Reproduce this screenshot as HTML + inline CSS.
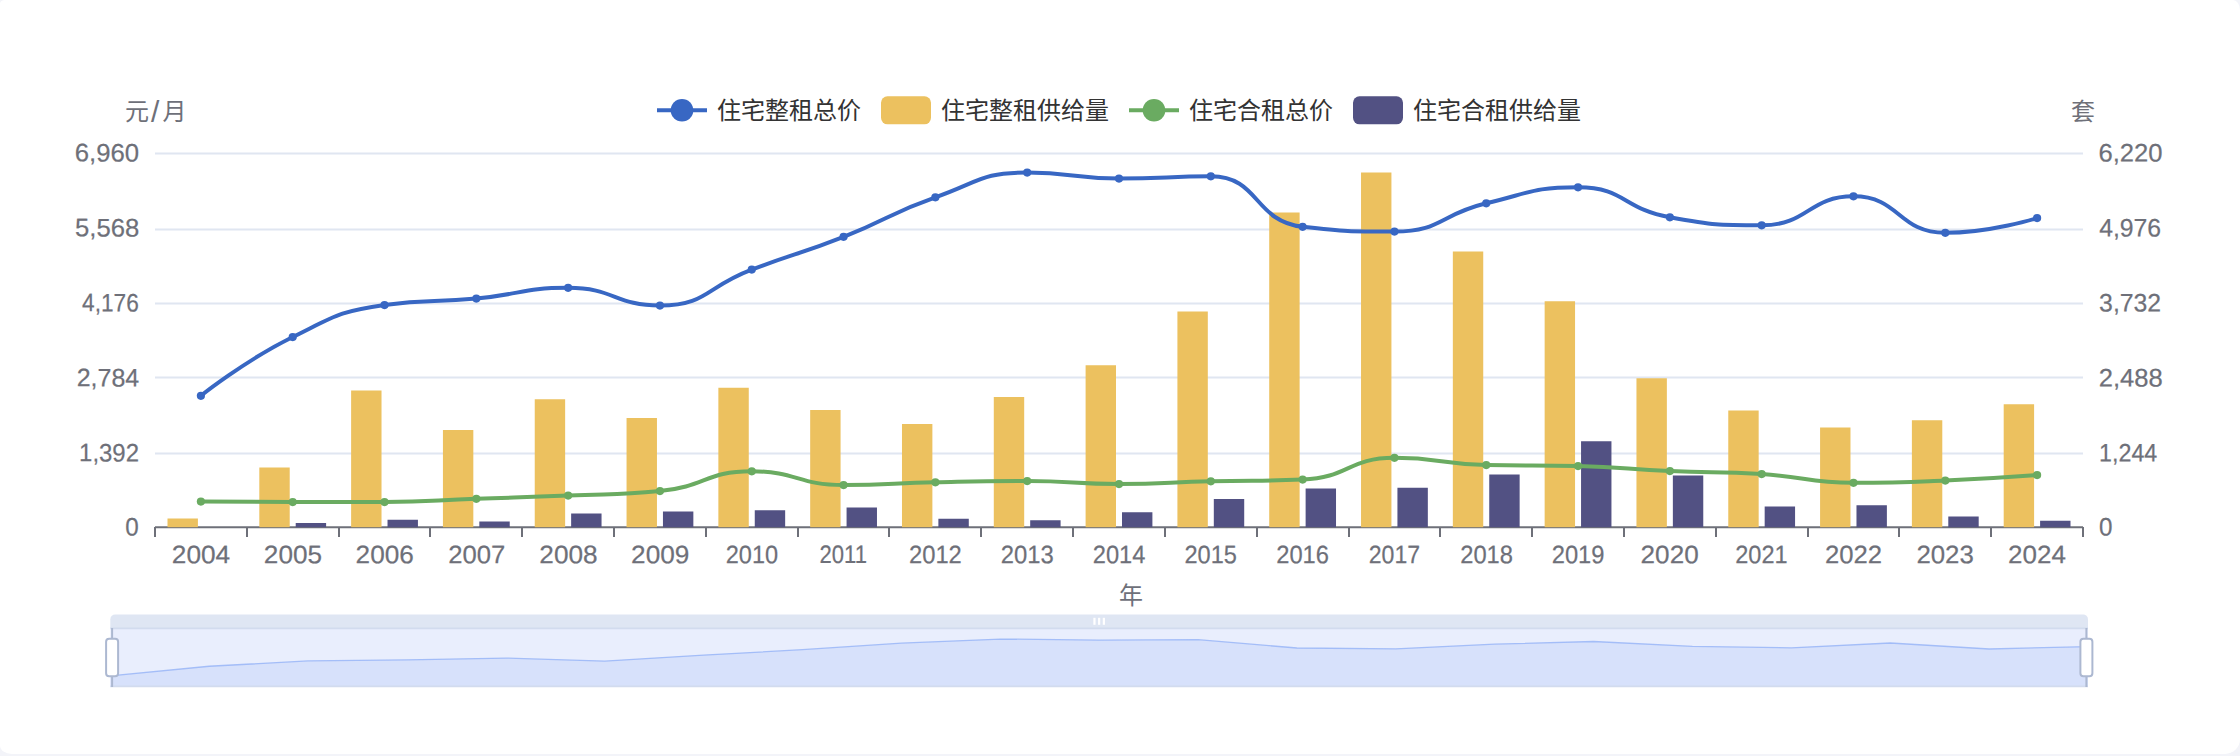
<!DOCTYPE html>
<html lang="zh-CN">
<head>
<meta charset="utf-8">
<title>住宅租金与供给量</title>
<style>
html,body{margin:0;padding:0;}
body{width:2240px;height:756px;overflow:hidden;background:#f3f4f9;font-family:"Liberation Sans", "Noto Sans CJK SC", sans-serif;}
.card{position:absolute;left:0;top:0;width:2240px;height:754px;background:#fff;border-radius:5px 7px 15px 12px / 3.5px 10px 15px 8.5px;overflow:hidden;}
svg{position:absolute;left:0;top:0;display:block;}
svg text{font-family:"Liberation Sans", "Noto Sans CJK SC", sans-serif;font-size:24px;}
.ax{fill:#6e7079;}
.lg{fill:#333;}
.n{stroke:#6e7079;stroke-width:.2px;}
</style>
</head>
<body>
<div class="card">
<svg width="2240" height="756" viewBox="0 0 2240 756">
<g stroke="#e0e6f1" stroke-width="2" fill="none">
<line x1="155" y1="153.5" x2="2083" y2="153.5"/>
<line x1="155" y1="229.5" x2="2083" y2="229.5"/>
<line x1="155" y1="303.5" x2="2083" y2="303.5"/>
<line x1="155" y1="377.5" x2="2083" y2="377.5"/>
<line x1="155" y1="453.5" x2="2083" y2="453.5"/>
</g>
<g stroke="#6e7079" stroke-width="2" fill="none">
<line x1="155" y1="527.2" x2="2083" y2="527.2"/>
<line x1="155" y1="527" x2="155" y2="537"/>
<line x1="247" y1="527" x2="247" y2="537"/>
<line x1="339" y1="527" x2="339" y2="537"/>
<line x1="430" y1="527" x2="430" y2="537"/>
<line x1="522" y1="527" x2="522" y2="537"/>
<line x1="614" y1="527" x2="614" y2="537"/>
<line x1="706" y1="527" x2="706" y2="537"/>
<line x1="798" y1="527" x2="798" y2="537"/>
<line x1="889" y1="527" x2="889" y2="537"/>
<line x1="981" y1="527" x2="981" y2="537"/>
<line x1="1073" y1="527" x2="1073" y2="537"/>
<line x1="1165" y1="527" x2="1165" y2="537"/>
<line x1="1257" y1="527" x2="1257" y2="537"/>
<line x1="1349" y1="527" x2="1349" y2="537"/>
<line x1="1440" y1="527" x2="1440" y2="537"/>
<line x1="1532" y1="527" x2="1532" y2="537"/>
<line x1="1624" y1="527" x2="1624" y2="537"/>
<line x1="1716" y1="527" x2="1716" y2="537"/>
<line x1="1808" y1="527" x2="1808" y2="537"/>
<line x1="1899" y1="527" x2="1899" y2="537"/>
<line x1="1991" y1="527" x2="1991" y2="537"/>
<line x1="2083" y1="527" x2="2083" y2="537"/>
</g>
<g fill="#ecc15f">
<rect x="167.5" y="518.5" width="30.4" height="8.7"/>
<rect x="259.31" y="467.5" width="30.4" height="59.7"/>
<rect x="351.12" y="390.5" width="30.4" height="136.7"/>
<rect x="442.93" y="430" width="30.4" height="97.2"/>
<rect x="534.74" y="399.25" width="30.4" height="127.95"/>
<rect x="626.55" y="418" width="30.4" height="109.2"/>
<rect x="718.36" y="387.75" width="30.4" height="139.45"/>
<rect x="810.17" y="410" width="30.4" height="117.2"/>
<rect x="901.98" y="424" width="30.4" height="103.2"/>
<rect x="993.79" y="397" width="30.4" height="130.2"/>
<rect x="1085.6" y="365.25" width="30.4" height="161.95"/>
<rect x="1177.41" y="311.5" width="30.4" height="215.7"/>
<rect x="1269.22" y="212.5" width="30.4" height="314.7"/>
<rect x="1361.03" y="172.5" width="30.4" height="354.7"/>
<rect x="1452.84" y="251.5" width="30.4" height="275.7"/>
<rect x="1544.65" y="301.25" width="30.4" height="225.95"/>
<rect x="1636.46" y="378.25" width="30.4" height="148.95"/>
<rect x="1728.27" y="410.5" width="30.4" height="116.7"/>
<rect x="1820.08" y="427.5" width="30.4" height="99.7"/>
<rect x="1911.89" y="420.25" width="30.4" height="106.95"/>
<rect x="2003.7" y="404.25" width="30.4" height="122.95"/>
</g>
<g fill="#525183">
<rect x="295.71" y="523" width="30.4" height="4.2"/>
<rect x="387.52" y="519.75" width="30.4" height="7.45"/>
<rect x="479.33" y="521.5" width="30.4" height="5.7"/>
<rect x="571.14" y="513.5" width="30.4" height="13.7"/>
<rect x="662.95" y="511.5" width="30.4" height="15.7"/>
<rect x="754.76" y="510.25" width="30.4" height="16.95"/>
<rect x="846.57" y="507.5" width="30.4" height="19.7"/>
<rect x="938.38" y="518.75" width="30.4" height="8.45"/>
<rect x="1030.19" y="520.25" width="30.4" height="6.95"/>
<rect x="1122" y="512.25" width="30.4" height="14.95"/>
<rect x="1213.81" y="499" width="30.4" height="28.2"/>
<rect x="1305.62" y="488.5" width="30.4" height="38.7"/>
<rect x="1397.43" y="487.75" width="30.4" height="39.45"/>
<rect x="1489.24" y="474.5" width="30.4" height="52.7"/>
<rect x="1581.05" y="441.25" width="30.4" height="85.95"/>
<rect x="1672.86" y="475.5" width="30.4" height="51.7"/>
<rect x="1764.67" y="506.5" width="30.4" height="20.7"/>
<rect x="1856.48" y="505.25" width="30.4" height="21.95"/>
<rect x="1948.29" y="516.5" width="30.4" height="10.7"/>
<rect x="2040.1" y="520.75" width="30.4" height="6.45"/>
</g>
<path d="M200.9,395.8 C200.9,395.8 244.19,361.03 292.71,337.05 C336,315.66 337.36,311.92 384.52,305.05 C429.17,298.55 430.53,302.85 476.33,298.55 C522.34,294.23 522.5,287.8 568.14,287.8 C614.31,287.8 615.27,305.55 659.95,305.55 C707.08,305.55 705.59,286.84 751.76,269.55 C797.4,252.46 798.24,254.64 843.57,236.8 C890.05,218.51 888.33,213.76 935.38,197.3 C980.14,181.64 980.53,172.55 1027.19,172.55 C1072.34,172.55 1073.05,178.55 1119,178.55 C1164.86,178.55 1167.93,176.3 1210.81,176.3 C1259.74,176.3 1253.72,221.39 1302.62,226.8 C1345.53,231.55 1349.53,231.55 1394.43,231.55 C1441.34,231.55 1439.64,214.53 1486.24,203.3 C1531.45,192.4 1532.96,187.3 1578.05,187.3 C1624.77,187.3 1622.88,208.92 1669.86,217.3 C1714.68,225.3 1716.77,225.3 1761.67,225.3 C1808.58,225.3 1808.16,196.3 1853.48,196.3 C1899.97,196.3 1897.99,232.8 1945.29,232.8 C1989.8,232.8 2037.1,218.05 2037.1,218.05" fill="none" stroke="#3867c3" stroke-width="4" stroke-linejoin="bevel" stroke-linecap="butt"/>
<g fill="#3867c3">
<circle cx="200.9" cy="395.8" r="4.1"/>
<circle cx="292.71" cy="337.05" r="4.1"/>
<circle cx="384.52" cy="305.05" r="4.1"/>
<circle cx="476.33" cy="298.55" r="4.1"/>
<circle cx="568.14" cy="287.8" r="4.1"/>
<circle cx="659.95" cy="305.55" r="4.1"/>
<circle cx="751.76" cy="269.55" r="4.1"/>
<circle cx="843.57" cy="236.8" r="4.1"/>
<circle cx="935.38" cy="197.3" r="4.1"/>
<circle cx="1027.19" cy="172.55" r="4.1"/>
<circle cx="1119" cy="178.55" r="4.1"/>
<circle cx="1210.81" cy="176.3" r="4.1"/>
<circle cx="1302.62" cy="226.8" r="4.1"/>
<circle cx="1394.43" cy="231.55" r="4.1"/>
<circle cx="1486.24" cy="203.3" r="4.1"/>
<circle cx="1578.05" cy="187.3" r="4.1"/>
<circle cx="1669.86" cy="217.3" r="4.1"/>
<circle cx="1761.67" cy="225.3" r="4.1"/>
<circle cx="1853.48" cy="196.3" r="4.1"/>
<circle cx="1945.29" cy="232.8" r="4.1"/>
<circle cx="2037.1" cy="218.05" r="4.1"/>
</g>
<path d="M200.9,501.55 C200.9,501.55 246.81,502.05 292.71,502.05 C338.62,502.05 338.63,502.05 384.52,502.05 C430.44,502.05 430.43,500.43 476.33,498.8 C522.24,497.18 522.25,497.49 568.14,495.55 C614.06,493.61 614.54,495.55 659.95,491.05 C706.35,486.45 705.59,471.3 751.76,471.3 C797.4,471.3 797.42,485.05 843.57,485.05 C889.23,485.05 889.47,483.3 935.38,482.3 C981.28,481.3 981.3,481.05 1027.19,481.05 C1073.11,481.05 1073.09,484.05 1119,484.05 C1164.9,484.05 1164.9,482.43 1210.81,481.3 C1256.71,480.18 1257.34,481.3 1302.62,479.55 C1349.15,477.75 1347.97,457.8 1394.43,457.8 C1439.78,457.8 1440.26,464.05 1486.24,465.05 C1532.07,466.05 1532.18,465.05 1578.05,466.05 C1623.99,467.05 1623.93,469.05 1669.86,471.05 C1715.74,473.05 1715.85,471.12 1761.67,474.05 C1807.66,476.99 1807.47,482.8 1853.48,482.8 C1899.28,482.8 1899.42,482.49 1945.29,480.55 C1991.22,478.61 2037.1,475.05 2037.1,475.05" fill="none" stroke="#6aab61" stroke-width="4" stroke-linejoin="bevel" stroke-linecap="butt"/>
<g fill="#6aab61">
<circle cx="200.9" cy="501.55" r="4.1"/>
<circle cx="292.71" cy="502.05" r="4.1"/>
<circle cx="384.52" cy="502.05" r="4.1"/>
<circle cx="476.33" cy="498.8" r="4.1"/>
<circle cx="568.14" cy="495.55" r="4.1"/>
<circle cx="659.95" cy="491.05" r="4.1"/>
<circle cx="751.76" cy="471.3" r="4.1"/>
<circle cx="843.57" cy="485.05" r="4.1"/>
<circle cx="935.38" cy="482.3" r="4.1"/>
<circle cx="1027.19" cy="481.05" r="4.1"/>
<circle cx="1119" cy="484.05" r="4.1"/>
<circle cx="1210.81" cy="481.3" r="4.1"/>
<circle cx="1302.62" cy="479.55" r="4.1"/>
<circle cx="1394.43" cy="457.8" r="4.1"/>
<circle cx="1486.24" cy="465.05" r="4.1"/>
<circle cx="1578.05" cy="466.05" r="4.1"/>
<circle cx="1669.86" cy="471.05" r="4.1"/>
<circle cx="1761.67" cy="474.05" r="4.1"/>
<circle cx="1853.48" cy="482.8" r="4.1"/>
<circle cx="1945.29" cy="480.55" r="4.1"/>
<circle cx="2037.1" cy="475.05" r="4.1"/>
</g>
<g class="ax">
<text class="n" transform="translate(139.15,161.4) rotate(0.03) scale(1.0722,1.055)" text-anchor="end">6,960</text>
<text class="n" transform="translate(139.26,236.4) rotate(0.03) scale(1.0696,1.055)" text-anchor="end">5,568</text>
<text class="n" transform="translate(138.74,311.4) rotate(0.03) scale(0.9442,1.055)" text-anchor="end">4,176</text>
<text class="n" transform="translate(139.18,386.4) rotate(0.03) scale(1.0402,1.055)" text-anchor="end">2,784</text>
<text class="n" transform="translate(138.95,461.4) rotate(0.03) scale(0.9975,1.055)" text-anchor="end">1,392</text>
<text class="n" transform="translate(138.69,535.4) rotate(0.03) scale(1.0096,1.055)" text-anchor="end">0</text>
<text class="n" transform="translate(2098.41,161.4) rotate(0.03) scale(1.0679,1.055)" text-anchor="start">6,220</text>
<text class="n" transform="translate(2099.13,236.4) rotate(0.03) scale(1.0323,1.055)" text-anchor="start">4,976</text>
<text class="n" transform="translate(2099.11,311.4) rotate(0.03) scale(1.0336,1.055)" text-anchor="start">3,732</text>
<text class="n" transform="translate(2098.77,386.4) rotate(0.03) scale(1.0654,1.055)" text-anchor="start">2,488</text>
<text class="n" transform="translate(2099.09,461.4) rotate(0.03) scale(0.9698,1.055)" text-anchor="start">1,244</text>
<text class="n" transform="translate(2099.11,535.4) rotate(0.03) scale(1.0096,1.055)" text-anchor="start">0</text>
<text class="n" transform="translate(201,563.25) rotate(0.03) scale(1.0924,1.055)" text-anchor="middle">2004</text>
<text class="n" transform="translate(292.92,563.25) rotate(0.03) scale(1.0893,1.055)" text-anchor="middle">2005</text>
<text class="n" transform="translate(384.69,563.25) rotate(0.03) scale(1.0901,1.055)" text-anchor="middle">2006</text>
<text class="n" transform="translate(476.65,563.25) rotate(0.03) scale(1.0688,1.055)" text-anchor="middle">2007</text>
<text class="n" transform="translate(568.44,563.25) rotate(0.03) scale(1.0899,1.055)" text-anchor="middle">2008</text>
<text class="n" transform="translate(660.24,563.25) rotate(0.03) scale(1.0919,1.055)" text-anchor="middle">2009</text>
<text class="n" transform="translate(751.89,563.25) rotate(0.03) scale(0.9803,1.055)" text-anchor="middle">2010</text>
<text class="n" transform="translate(843.26,563.25) rotate(0.03) scale(0.919,1.055)" text-anchor="middle">2011</text>
<text class="n" transform="translate(935.4,563.25) rotate(0.03) scale(0.9904,1.055)" text-anchor="middle">2012</text>
<text class="n" transform="translate(1027.2,563.25) rotate(0.03) scale(0.9924,1.055)" text-anchor="middle">2013</text>
<text class="n" transform="translate(1119.03,563.25) rotate(0.03) scale(0.9856,1.055)" text-anchor="middle">2014</text>
<text class="n" transform="translate(1210.68,563.25) rotate(0.03) scale(0.9818,1.055)" text-anchor="middle">2015</text>
<text class="n" transform="translate(1302.58,563.25) rotate(0.03) scale(0.9875,1.055)" text-anchor="middle">2016</text>
<text class="n" transform="translate(1394.4,563.25) rotate(0.03) scale(0.961,1.055)" text-anchor="middle">2017</text>
<text class="n" transform="translate(1486.57,563.25) rotate(0.03) scale(0.9873,1.055)" text-anchor="middle">2018</text>
<text class="n" transform="translate(1578.12,563.25) rotate(0.03) scale(0.989,1.055)" text-anchor="middle">2019</text>
<text class="n" transform="translate(1669.63,563.25) rotate(0.03) scale(1.0876,1.055)" text-anchor="middle">2020</text>
<text class="n" transform="translate(1761.39,563.25) rotate(0.03) scale(0.98,1.055)" text-anchor="middle">2021</text>
<text class="n" transform="translate(1853.4,563.25) rotate(0.03) scale(1.0688,1.055)" text-anchor="middle">2022</text>
<text class="n" transform="translate(1945.07,563.25) rotate(0.03) scale(1.0755,1.055)" text-anchor="middle">2023</text>
<text class="n" transform="translate(2037,563.25) rotate(0.03) scale(1.0827,1.055)" text-anchor="middle">2024</text>
<text y="119.5"><tspan x="125">元</tspan><tspan x="151" dy="2.3" style="font-size:30px">/</tspan><tspan x="162.6" dy="-2.3">月</tspan></text>
<text x="2083" y="119.5" text-anchor="middle">套</text>
<text x="1131" y="603.8" text-anchor="middle">年</text>
</g>
<g>
<line x1="657" y1="110.3" x2="707" y2="110.3" stroke="#3867c3" stroke-width="4"/>
<circle cx="682" cy="110.3" r="11.3" fill="#3867c3"/>
<text class="lg" x="717" y="118.6">住宅整租总价</text>
<rect x="881" y="96.3" width="50" height="28" rx="6.5" ry="6.5" fill="#ecc15f"/>
<text class="lg" x="941" y="118.6">住宅整租供给量</text>
<line x1="1129" y1="110.3" x2="1179" y2="110.3" stroke="#6aab61" stroke-width="4"/>
<circle cx="1154" cy="110.3" r="11.3" fill="#6aab61"/>
<text class="lg" x="1189" y="118.6">住宅合租总价</text>
<rect x="1353" y="96.3" width="50" height="28" rx="6.5" ry="6.5" fill="#525183"/>
<text class="lg" x="1413" y="118.6">住宅合租供给量</text>
</g>
<g>
<path d="M110.3,628 v-8.6 a5,5 0 0 1 5,-5 h1967.7 a5,5 0 0 1 5,5 v8.6 z" fill="#d2dbee" fill-opacity="0.7"/>
<rect x="110.3" y="628" width="1977.7" height="59" fill="#fff"/>
<path d="M2088,687 L110.3,687 L110.3,675.94 L209.19,666.23 L308.07,660.95 L406.96,659.87 L505.84,658.1 L604.73,661.03 L703.61,655.08 L802.5,649.67 L901.38,643.15 L1000.26,639.06 L1099.15,640.05 L1198.04,639.68 L1296.92,648.02 L1395.81,648.81 L1494.69,644.14 L1593.58,641.5 L1692.46,646.45 L1791.35,647.78 L1890.23,642.99 L1989.12,649.01 L2088,646.58 Z" fill="#8fb0f7" fill-opacity="0.2"/>
<path d="M110.3,675.94 L209.19,666.23 L308.07,660.95 L406.96,659.87 L505.84,658.1 L604.73,661.03 L703.61,655.08 L802.5,649.67 L901.38,643.15 L1000.26,639.06 L1099.15,640.05 L1198.04,639.68 L1296.92,648.02 L1395.81,648.81 L1494.69,644.14 L1593.58,641.5 L1692.46,646.45 L1791.35,647.78 L1890.23,642.99 L1989.12,649.01 L2088,646.58" fill="none" stroke="#8fb0f7" stroke-width="1.3" stroke-opacity="0.75"/>
<rect x="110.3" y="628" width="1977.7" height="59" fill="#8fa8f5" fill-opacity="0.2"/>
<path d="M110.3,628.4 H2088 M110.3,686.4 H2088" stroke="#d2dbee" stroke-width="1.6" fill="none"/>
<rect x="1093.35" y="617.8" width="2.2" height="7" fill="#fff"/>
<rect x="1098.05" y="617.8" width="2.2" height="7" fill="#fff"/>
<rect x="1102.75" y="617.8" width="2.2" height="7" fill="#fff"/>
<path d="M112.1,628 V638.5 M112.1,676.5 V687" stroke="#acb8d1" stroke-width="2" fill="none"/>
<rect x="106.1" y="638.75" width="12" height="37.5" rx="3" ry="3" fill="#fff" stroke="#acb8d1" stroke-width="2"/>
<path d="M2086.4,628 V638.5 M2086.4,676.5 V687" stroke="#acb8d1" stroke-width="2" fill="none"/>
<rect x="2080.4" y="638.75" width="12" height="37.5" rx="3" ry="3" fill="#fff" stroke="#acb8d1" stroke-width="2"/>
</g>
</svg>
</div>
</body>
</html>
